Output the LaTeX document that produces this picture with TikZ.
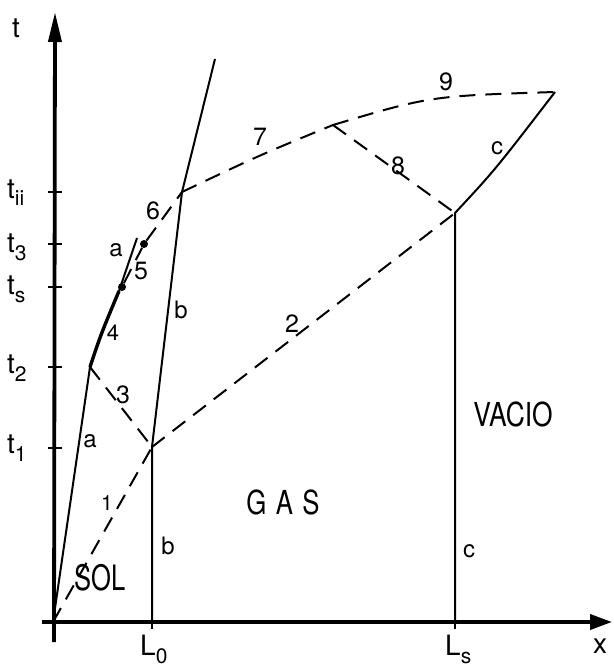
\documentclass[tikz,border=0pt]{standalone}
\usepackage{fontspec}
\usepackage{graphicx}
\setmainfont{TeX Gyre Heros}
\usetikzlibrary{arrows.meta}
\newcommand{\tlab}[2]{#1\raisebox{-8pt}{\fontsize{21}{21}\selectfont #2}}
\begin{document}
\begin{tikzpicture}[x=1pt,y=-1pt,
  axisline/.style={line width=3.8pt},
  curveline/.style={line width=2pt},
  thickseg/.style={line width=3.4pt},
  dline/.style={line width=2pt, dash pattern=on 16pt off 10pt},
  axtick/.style={line width=1.6pt},
  lab/.style={inner sep=0pt, font=\fontsize{25}{25}\selectfont},
  slab/.style={inner sep=0pt, font=\fontsize{24}{24}\selectfont},
  tl/.style={inner sep=0pt, anchor=base west, font=\fontsize{28}{28}\selectfont},
  region/.style={inner sep=0pt, font=\fontsize{33}{33}\selectfont},
  dot/.style={circle, fill=black, inner sep=0pt, minimum size=8pt}
]
\useasboundingbox (0,0) rectangle (613,668);

% key points
\coordinate (O) at (53,622);
\coordinate (Yb) at (54,642);
\coordinate (Yt) at (55,12);
\coordinate (Xl) at (42,622);
\coordinate (Xr) at (612,622);
\coordinate (L0) at (152,622);
\coordinate (Ls) at (455,622);
\coordinate (T1) at (152,447);
\coordinate (P2) at (90,367);
\coordinate (Q) at (119,291);
\coordinate (Atop) at (137,238);
\coordinate (Tii) at (182,192);
\coordinate (Btop) at (215,59);
\coordinate (M) at (333,125);
\coordinate (Cs) at (455,213);
\coordinate (C9) at (555,92);

% axes
\draw[axisline, -{Triangle[length=30pt,width=13pt]}] (Yb) -- (Yt);
\draw[axisline, -{Triangle[length=22pt,width=15pt]}] (Xl) -- (Xr);

% ticks on t axis
\foreach \yy in {192,244,287,367,448}
  \draw[axtick] (48,\yy) -- (62,\yy);
% ticks on x axis
\draw[axtick] (L0) -- ++(0,7);
\draw[axtick] (Ls) -- ++(0,7);

% curve a
\draw[curveline] (O) -- (P2);
\draw[thickseg] (P2) .. controls (101,334) .. (Q);
\draw[curveline] (Q) -- (Atop);

% curve b
\draw[curveline] (L0) -- (T1) -- (Tii) -- (Btop);

% curve c
\draw[curveline] (Ls) -- (Cs) .. controls (495,170) .. (C9);

% dashed lines
\node[dot] (D5) at (122,287) {};
\node[dot] (D3) at (144,244) {};
\draw[dline] (O) -- (T1);
\draw[dline] (T1) -- (Cs);
\draw[dline] (P2) -- (T1);
\draw[dline] (D5) -- (D3);
\draw[dline] (D3) -- (Tii);
\draw[dline] (Tii) .. controls (260,155) .. (M);
\draw[dline] (M) -- (Cs);
\draw[dline] (M) .. controls (430,96) .. (C9);

% axis labels
\node[inner sep=0pt, font=\fontsize{28}{28}\selectfont] (tax) at (16,28) {t};
\node[inner sep=0pt, font=\fontsize{28}{28}\selectfont] (xax) at (600,646) {x};
\node[tl] (ltii) at (7,198) {\tlab{t}{ii}};
\node[tl] (lt3) at (7,252) {\tlab{t}{3}};
\node[tl] (lts) at (7,294) {\tlab{t}{s}};
\node[tl] (lt2) at (7,373) {\tlab{t}{2}};
\node[tl] (lt1) at (7,453) {\tlab{t}{1}};
\node[tl] (lL0) at (140,655) {\tlab{L}{0}};
\node[tl] (lLs) at (445,655) {\tlab{L}{s}};

% curve labels
\node[slab] (la1) at (116,250) {a};
\node[slab] (la2) at (90,441) {a};
\node[slab] (lb1) at (181,310) {b};
\node[slab] (lb2) at (168,546) {b};
\node[slab] (lc1) at (497,148) {c};
\node[slab] (lc2) at (469,551) {c};

% number labels
\node[lab] (n1) at (107,503) {\fontsize{21}{21}\selectfont 1};
\node[lab] (n2) at (292,324) {2};
\node[lab] (n3) at (123,395) {3};
\node[lab] (n4) at (113,333) {\fontsize{22}{22}\selectfont 4};
\node[lab] (n5) at (141,271) {5};
\node[lab] (n6) at (153,211) {6};
\node[lab] (n7) at (260,137) {7};
\node[lab] (n8) at (398,166) {8};
\node[lab] (n9) at (446,82) {9};

% region labels
\node[region] (sol) at (100,578) {\fontsize{35}{35}\selectfont\scalebox{0.73}[1]{SOL}};
\node[region] (gas) at (283,502) {\scalebox{0.78}[1]{G\hspace{12pt}A\hspace{12pt}S}};
\node[region] (vac) at (513,414) {\scalebox{0.8}[1]{VACIO}};
\end{tikzpicture}
\end{document}
